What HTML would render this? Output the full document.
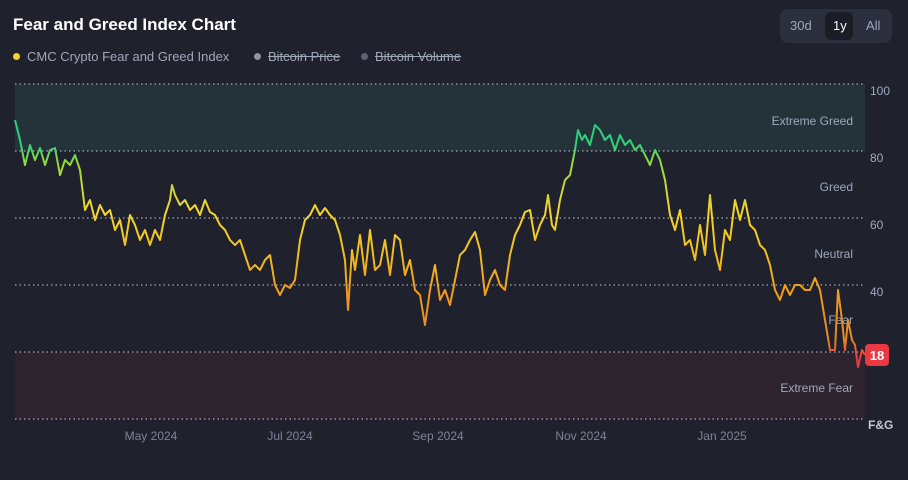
<!DOCTYPE html><html><head><style>
body{margin:0;width:908px;height:480px;background:#1f212d;font-family:"Liberation Sans",sans-serif;overflow:hidden;position:relative}
.t{position:absolute;left:13px;top:15px;color:#fff;font-size:17px;font-weight:bold}
.lg{position:absolute;top:49px;font-size:13px;color:#a1a7bb}
.dot{display:inline-block;width:7px;height:7px;border-radius:50%;margin-right:7px;vertical-align:1px}
.btns{position:absolute;left:780px;top:9px;width:112px;height:34px;background:#2b2f3e;border-radius:8px}
.btns span{position:absolute;top:9px;font-size:13px;color:#a1a7bb}
</style></head><body>
<div class="t">Fear and Greed Index Chart</div>
<div class="lg" style="left:13px"><span class="dot" style="background:#f3d42f"></span>CMC Crypto Fear and Greed Index</div>
<div class="lg" style="left:254px"><span class="dot" style="background:#8d93a6"></span><s>Bitcoin Price</s></div>
<div class="lg" style="left:361px"><span class="dot" style="background:#5d6275"></span><s>Bitcoin Volume</s></div>
<div class="btns"><span style="left:10px">30d</span><div style="position:absolute;left:45px;top:3px;width:28px;height:28px;background:#1a1c26;border-radius:6px"></div><span style="left:53px;color:#fff">1y</span><span style="left:86px">All</span></div>
<svg width="908" height="480" style="position:absolute;left:0;top:0">
<defs><linearGradient id="g" gradientUnits="userSpaceOnUse" x1="0" y1="84" x2="0" y2="419">
<stop offset="0" stop-color="#16c784"/><stop offset="0.18" stop-color="#2fd07a"/><stop offset="0.24" stop-color="#9bd93a"/><stop offset="0.38" stop-color="#f3d42f"/><stop offset="0.5" stop-color="#f0c020"/><stop offset="0.62" stop-color="#f19a1e"/><stop offset="0.76" stop-color="#e58a26"/><stop offset="0.82" stop-color="#ea3943"/><stop offset="1" stop-color="#ea3943"/></linearGradient></defs>
<rect x="15" y="84" width="850" height="67" fill="#24333a"/>
<rect x="15" y="352" width="850" height="67" fill="#2e2430"/>
<g stroke="#c6c9d4" stroke-dasharray="1.5 3" stroke-width="1">
<line x1="15" y1="84" x2="865" y2="84"/><line x1="15" y1="151" x2="865" y2="151"/><line x1="15" y1="218" x2="865" y2="218"/><line x1="15" y1="285" x2="865" y2="285"/><line x1="15" y1="352" x2="865" y2="352"/><line x1="15" y1="419" x2="865" y2="419"/></g>
<g font-size="12" fill="#a1a7bb" font-family="Liberation Sans">
<text x="870" y="95">100</text><text x="870" y="162">80</text><text x="870" y="229">60</text><text x="870" y="296">40</text>
<text x="853" y="125" text-anchor="end">Extreme Greed</text><text x="853" y="191" text-anchor="end">Greed</text><text x="853" y="258" text-anchor="end">Neutral</text><text x="853" y="324" text-anchor="end">Fear</text><text x="853" y="392" text-anchor="end">Extreme Fear</text>
<text x="151" y="440" text-anchor="middle" fill="#7d8296">May 2024</text><text x="290" y="440" text-anchor="middle" fill="#7d8296">Jul 2024</text><text x="438" y="440" text-anchor="middle" fill="#7d8296">Sep 2024</text><text x="581" y="440" text-anchor="middle" fill="#7d8296">Nov 2024</text><text x="722" y="440" text-anchor="middle" fill="#7d8296">Jan 2025</text>
<text x="868" y="429" font-weight="bold" fill="#c6c9d4">F&amp;G</text></g>
<polyline fill="none" stroke="url(#g)" stroke-width="2" stroke-linejoin="round" points="15,120 20,140 25,165 30,145 35,160 40,148 45,165 50,150 55,148 60,175 65,160 70,165 75,155 80,170 85,210 90,200 95,220 100,205 105,215 110,210 115,230 120,220 125,245 130,215 135,225 140,240 145,230 150,245 155,230 160,240 165,215 170,200 172,185 175,195 180,205 185,200 190,210 195,205 200,215 205,200 210,212 215,215 220,225 225,230 230,240 235,245 240,240 245,255 250,270 255,265 260,270 265,260 270,255 275,285 280,295 285,285 290,288 295,280 300,240 305,220 310,215 315,205 320,215 325,208 330,215 335,220 340,235 345,260 348,310 352,250 355,270 360,235 365,275 370,230 375,270 380,265 385,240 390,275 395,235 400,240 405,275 410,260 415,290 420,295 425,325 430,290 435,265 440,300 445,290 450,305 455,280 460,255 465,250 470,240 475,232 480,250 485,295 490,280 495,270 500,285 505,290 510,255 515,235 520,225 525,212 530,210 535,240 540,225 545,215 548,195 552,225 555,230 560,200 565,180 570,175 575,150 578,130 582,140 585,135 590,145 595,125 600,130 605,140 610,135 615,150 620,135 625,145 630,140 635,150 640,145 645,155 650,165 655,150 660,160 665,180 670,215 675,230 680,210 685,245 690,240 695,260 700,225 705,255 710,195 715,250 720,270 725,230 730,240 735,200 740,220 745,200 750,225 755,230 760,245 765,250 770,265 775,290 780,300 785,285 790,295 795,285 800,285 805,290 810,290 815,278 820,290 825,320 830,350 835,350 838,290 842,320 845,350 848,320 852,340 855,345 858,367 862,350 865,355"/>
<rect x="865" y="344" width="24" height="22" rx="4" fill="#ea3943"/>
<text x="877" y="360" text-anchor="middle" font-size="13" font-weight="bold" fill="#fff" font-family="Liberation Sans">18</text>
</svg>
</body></html>
